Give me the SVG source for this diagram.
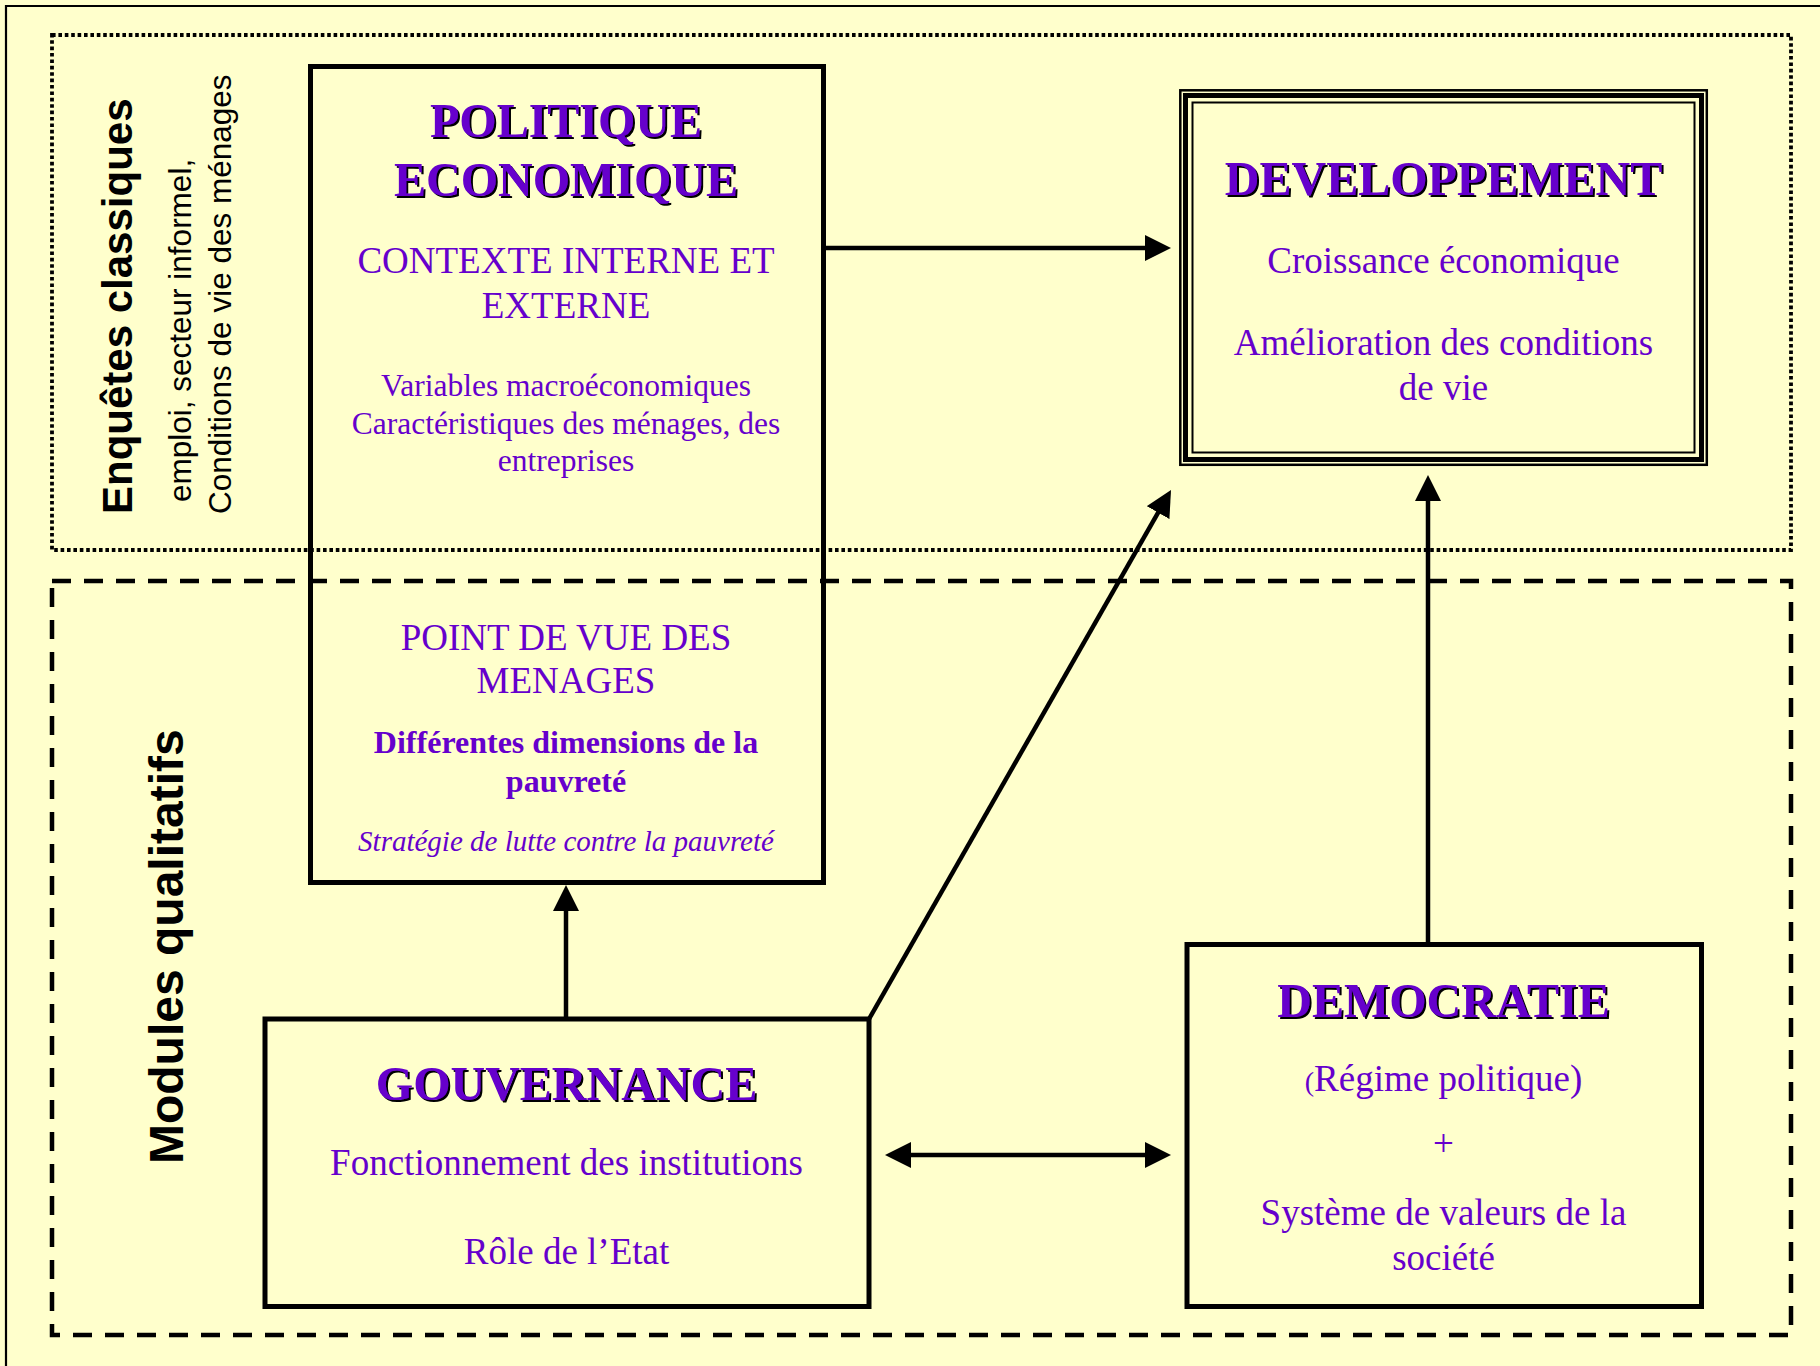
<svg xmlns="http://www.w3.org/2000/svg" width="1820" height="1366" viewBox="0 0 1820 1366">
  <defs>
    <style>
      .serif { font-family: "Liberation Serif", "Times New Roman", serif; fill: #6600CC; text-anchor: middle; }
      .t37 { font-size: 37px; }
      .t31 { font-size: 31.5px; }
      .head { font-size: 48px; font-weight: bold; filter: url(#shadow); }
      .sub { font-size: 32px; font-weight: bold; }
      .ital { font-size: 29px; font-style: italic; }
      .sans { font-family: "Liberation Sans", Arial, sans-serif; fill: #000; }
      .box { fill: none; stroke: #000; stroke-width: 5; }
      .conn { stroke: #000; stroke-width: 4.5; fill: none; }
    </style>
    <filter id="shadow" x="-5%" y="-20%" width="110%" height="140%">
      <feOffset in="SourceAlpha" dx="2.2" dy="2.2" result="off"/>
      <feFlood flood-color="#000000" result="col"/>
      <feComposite in="col" in2="off" operator="in" result="sh"/>
      <feMerge>
        <feMergeNode in="sh"/>
        <feMergeNode in="SourceGraphic"/>
      </feMerge>
    </filter>
    <marker id="arr" markerUnits="userSpaceOnUse" markerWidth="26" markerHeight="26" refX="6" refY="13" orient="auto-start-reverse">
      <path d="M0,0 L26,13 L0,26 z" fill="#000"/>
    </marker>
  </defs>

  <rect x="0" y="0" width="1820" height="1366" fill="#FFFFCC"/>
  <path d="M6,1366 V6 H1820" fill="none" stroke="#000" stroke-width="2.2"/>

  <g id="zone-enquetes">
    <rect x="52" y="35" width="1739" height="515" fill="none" stroke="#000" stroke-width="3.8" stroke-dasharray="3.6 2.8"/>
    <text class="sans" font-size="42" font-weight="bold" transform="translate(132,514) rotate(-90)">Enquêtes classiques</text>
    <text class="sans" font-size="31.5" transform="translate(191,502) rotate(-90)">emploi, secteur informel,</text>
    <text class="sans" font-size="31.5" transform="translate(231,514) rotate(-90)">Conditions de vie des ménages</text>
  </g>

  <g id="zone-modules">
    <rect x="52" y="581" width="1739" height="754" fill="none" stroke="#000" stroke-width="4.5" stroke-dasharray="19 13"/>
    <text class="sans" font-size="48" font-weight="bold" transform="translate(183,1164) rotate(-90)">Modules qualitatifs</text>
  </g>

  <g id="connectors">
    <line class="conn" x1="823.5" y1="248" x2="1151" y2="248" marker-end="url(#arr)"/>
    <line class="conn" x1="566" y1="1019" x2="566" y2="905" marker-end="url(#arr)"/>
    <line class="conn" x1="869" y1="1019" x2="1161.1" y2="507.4" marker-end="url(#arr)"/>
    <line class="conn" x1="1428" y1="944.5" x2="1428" y2="495" marker-end="url(#arr)"/>
    <line class="conn" x1="905" y1="1155" x2="1151" y2="1155" marker-start="url(#arr)" marker-end="url(#arr)"/>
  </g>

  <g id="node-politique">
    <rect class="box" x="310.5" y="66.5" width="513" height="816"/>
    <text class="serif head" x="566" y="137">POLITIQUE</text>
    <text class="serif head" x="566" y="196">ECONOMIQUE</text>
    <text class="serif t37" x="566" y="273">CONTEXTE INTERNE ET</text>
    <text class="serif t37" x="566" y="318">EXTERNE</text>
    <text class="serif t31" x="566" y="396">Variables macroéconomiques</text>
    <text class="serif t31" x="566" y="434">Caractéristiques des ménages, des</text>
    <text class="serif t31" x="566" y="471">entreprises</text>
    <text class="serif t37" x="566" y="650">POINT DE VUE DES</text>
    <text class="serif t37" x="566" y="693">MENAGES</text>
    <text class="serif sub" x="566" y="753">Différentes dimensions de la</text>
    <text class="serif sub" x="566" y="792">pauvreté</text>
    <text class="serif ital" x="566" y="851">Stratégie de lutte contre la pauvreté</text>
  </g>

  <g id="node-developpement">
    <rect x="1180.3" y="90.3" width="526.5" height="374.5" fill="none" stroke="#000" stroke-width="2.5"/>
    <rect x="1185.5" y="95.5" width="516" height="364" fill="none" stroke="#000" stroke-width="5"/>
    <rect x="1192.5" y="102.5" width="502" height="350" fill="none" stroke="#000" stroke-width="2"/>
    <text class="serif head" x="1443.5" y="195">DEVELOPPEMENT</text>
    <text class="serif t37" x="1443.5" y="273">Croissance économique</text>
    <text class="serif t37" x="1443.5" y="355">Amélioration des conditions</text>
    <text class="serif t37" x="1443.5" y="400">de vie</text>
  </g>

  <g id="node-gouvernance">
    <rect class="box" x="265" y="1019" width="604" height="287.5"/>
    <text class="serif head" x="566.5" y="1100">GOUVERNANCE</text>
    <text class="serif t37" x="566.5" y="1175">Fonctionnement des institutions</text>
    <text class="serif t37" x="566.5" y="1264">Rôle de l’Etat</text>
  </g>

  <g id="node-democratie">
    <rect class="box" x="1187" y="944.5" width="514.5" height="362"/>
    <text class="serif head" x="1443.5" y="1017">DEMOCRATIE</text>
    <text class="serif t37" x="1443.5" y="1091"><tspan font-size="28">(</tspan>Régime politique)</text>
    <text class="serif t37" x="1443.5" y="1156">+</text>
    <text class="serif t37" x="1443.5" y="1225">Système de valeurs de la</text>
    <text class="serif t37" x="1443.5" y="1270">société</text>
  </g>
</svg>
